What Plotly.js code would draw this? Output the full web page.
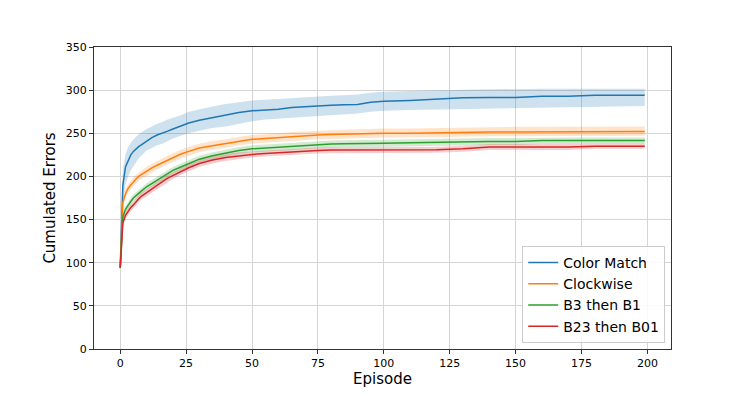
<!DOCTYPE html>
<html lang="en">
<head>
  <meta charset="UTF-8">
  <title>Cumulated Errors per Episode</title>
  <script src="https://cdn.plot.ly/plotly-3.0.1.min.js"></script>
  <style>
    html, body { margin: 0; padding: 0; background: #ffffff; }
    #chart { width: 747px; height: 399px; }
  </style>
</head>
<body>
  <div id="chart"></div>

  <script>
    const episodes = [0, 1, 2, 3, 4, 5, 6, 7, 8, 10, 12, 14, 16, 18, 20, 23, 26, 30, 35, 40, 45,
      50, 55, 60, 65, 70, 75, 80, 85, 90, 95, 100, 110, 120, 130, 140, 150, 160, 170, 180, 190, 199];

    const colorMatch = [94, 190, 211, 219, 225, 229, 232, 234.5, 236.5, 241, 245, 248, 250, 252.5, 255, 258.5, 262, 265,
      268, 271, 274, 276, 277, 278, 280, 281, 282, 282.5, 283, 283.5, 286, 287, 288, 289.5, 291.3, 291.5, 291.5, 293, 293, 294, 294, 294];
    const colorMatchHi = [94, 208, 226, 234, 239, 243, 246, 249, 251, 255, 258, 261, 263, 266, 268, 271, 275, 278,
      281, 284, 286, 288, 289, 290, 291, 292, 293, 293.5, 294, 295, 297, 298, 299, 300, 300.5, 301, 301.5, 301.5, 301.5, 301.5, 301.5, 301.5];
    const colorMatchLo = [94, 172, 190, 200, 207, 212, 217, 221, 224, 230, 233, 236, 238, 241, 244, 247, 250, 253,
      256, 258, 261, 264, 266, 267, 268, 269, 270, 271, 272, 273, 275, 276, 277, 277.5, 278.5, 279, 279.5, 280, 280.5, 281, 281.5, 281.5];

    const clockwise = [94, 170, 180, 186, 190, 194, 197, 200, 202, 206, 210, 213, 216, 219, 222, 226, 229, 233,
      235.5, 238, 241, 243, 244, 245, 246.5, 247, 248, 248.5, 249, 249.5, 249.5, 250, 250, 250.5, 251.5, 251.5, 251.5, 251.5, 251.5, 252, 252, 252];
    const clockwiseHi = [94, 175, 186, 191, 195, 199, 202, 205, 207, 211, 215, 218, 221, 224, 227, 231, 234, 238,
      241, 243, 246, 248, 249, 250.5, 251.5, 252, 253, 253.5, 254, 254.5, 255, 255.5, 255.5, 256, 257, 257, 257.5, 257.5, 257.5, 258, 258, 258];
    const clockwiseLo = [94, 165, 175, 181, 185, 189, 192, 195, 197, 201, 205, 208, 211, 214, 217, 221, 224, 228,
      231, 233, 236, 238, 239, 240, 241.5, 242, 243, 243.5, 244, 244.5, 245, 245, 245, 245.5, 246.5, 246.5, 246.5, 246.5, 247, 247, 247, 247];

    const b3ThenB1 = [94, 153, 162, 167, 171, 175, 178, 181, 183, 188, 192, 196, 200, 204, 207, 211, 215, 220,
      224, 227, 230, 232, 233, 234, 235, 236, 237, 237.5, 238, 238, 238, 238.5, 239, 239.5, 240.5, 240.5, 240.5, 241.5, 241.5, 241.5, 241.5, 241.5];
    const b3ThenB1Hi = [94, 157, 166, 171, 175, 179, 182, 185, 187, 192, 196, 200, 204, 208, 211, 215, 219, 224,
      228, 231, 234, 236, 237, 238, 239, 240, 241, 241.5, 242, 242, 242, 242.5, 243, 243.5, 244.5, 244.5, 244.5, 245, 245, 245, 245, 245];
    const b3ThenB1Lo = [94, 149, 158, 163, 167, 171, 174, 177, 179, 184, 188, 192, 196, 200, 203, 207, 211, 216,
      220, 223, 226, 228, 229, 230, 231, 232, 233, 233.5, 234, 234, 234, 234.5, 235, 235.5, 236.5, 236.5, 236.5, 237.5, 237.5, 237.5, 237.5, 237.5];

    const b23ThenB01 = [94, 146, 155, 160, 164, 167, 171, 174, 177, 181, 186, 190, 194, 198, 201, 206, 210, 215,
      219, 222, 224, 225.5, 226.5, 227.5, 228.5, 229.5, 230, 230.5, 230.5, 231, 231, 231, 231, 231, 232, 234, 234, 234, 234, 235, 235, 235];
    const b23ThenB01Hi = [94, 150, 159, 164, 168, 171, 175, 178, 181, 185, 190, 194, 198, 202, 205, 210, 214, 219,
      223, 226, 228, 229, 230, 231, 232, 233, 233.5, 234, 234, 234.5, 234.5, 234.5, 234.5, 234.5, 235.5, 237.5, 237.5, 237.5, 237.5, 238, 238, 238];
    const b23ThenB01Lo = [94, 142, 151, 156, 160, 163, 167, 170, 173, 177, 182, 186, 190, 194, 197, 202, 206, 211,
      215, 218, 220, 222, 223, 224, 225, 226, 226.5, 227, 227, 227.5, 227.5, 227.5, 227.5, 227.5, 228.5, 230.5, 230.5, 230.5, 230.5, 232, 232, 232];

    const seriesNames = ['Color Match', 'Clockwise', 'B3 then B1', 'B23 then B01'];
    const lineColors = ['#1f77b4', '#ff7f0e', '#2ca02c', '#d62728'];
    const bandColors = ['rgba(31,119,180,0.22)', 'rgba(255,127,14,0.22)', 'rgba(44,160,44,0.22)', 'rgba(214,39,40,0.22)'];

    const means = [colorMatch, clockwise, b3ThenB1, b23ThenB01];
    const highs = [colorMatchHi, clockwiseHi, b3ThenB1Hi, b23ThenB01Hi];
    const lows = [colorMatchLo, clockwiseLo, b3ThenB1Lo, b23ThenB01Lo];

    const data = [];
    seriesNames.forEach((name, i) => {
      data.push({
        x: episodes, y: lows[i], type: 'scatter', mode: 'lines',
        line: { width: 0, color: bandColors[i] }, showlegend: false, hoverinfo: 'skip'
      });
      data.push({
        x: episodes, y: highs[i], type: 'scatter', mode: 'lines', fill: 'tonexty',
        fillcolor: bandColors[i], line: { width: 0, color: bandColors[i] },
        showlegend: false, hoverinfo: 'skip'
      });
      data.push({
        x: episodes, y: means[i], type: 'scatter', mode: 'lines', name: name,
        line: { width: 1.5, color: lineColors[i] }
      });
    });

    const axisStyle = {
      showline: true, mirror: true, linecolor: '#333333', linewidth: 1,
      ticks: 'outside', ticklen: 4, tickcolor: '#333333',
      showgrid: true, gridcolor: '#d4d4d4', gridwidth: 1,
      zeroline: false,
      tickfont: { family: 'DejaVu Sans', size: 11, color: '#000000' }
    };

    const layout = {
      width: 747, height: 399,
      margin: { l: 94, r: 76, t: 47, b: 50 },
      paper_bgcolor: '#ffffff', plot_bgcolor: '#ffffff',
      font: { family: 'DejaVu Sans', color: '#000000' },
      xaxis: Object.assign({}, axisStyle, {
        range: [-9.95, 208.95], tickvals: [0, 25, 50, 75, 100, 125, 150, 175, 200],
        title: { text: 'Episode', font: { size: 15 }, standoff: 0 }
      }),
      yaxis: Object.assign({}, axisStyle, {
        range: [0, 350], tickvals: [0, 50, 100, 150, 200, 250, 300, 350],
        title: { text: 'Cumulated Errors', font: { size: 15 }, standoff: 6 }
      }),
      legend: {
        x: 0.99, y: 0.02, xanchor: 'right', yanchor: 'bottom',
        traceorder: 'normal', itemwidth: 30,
        bgcolor: 'rgba(255,255,255,0.85)', bordercolor: '#cccccc', borderwidth: 1,
        font: { family: 'DejaVu Sans', size: 14 }, tracegroupgap: 0
      },
      showlegend: true
    };

    Plotly.newPlot('chart', data, layout, { displayModeBar: false, staticPlot: true });
  </script>
</body>
</html>
